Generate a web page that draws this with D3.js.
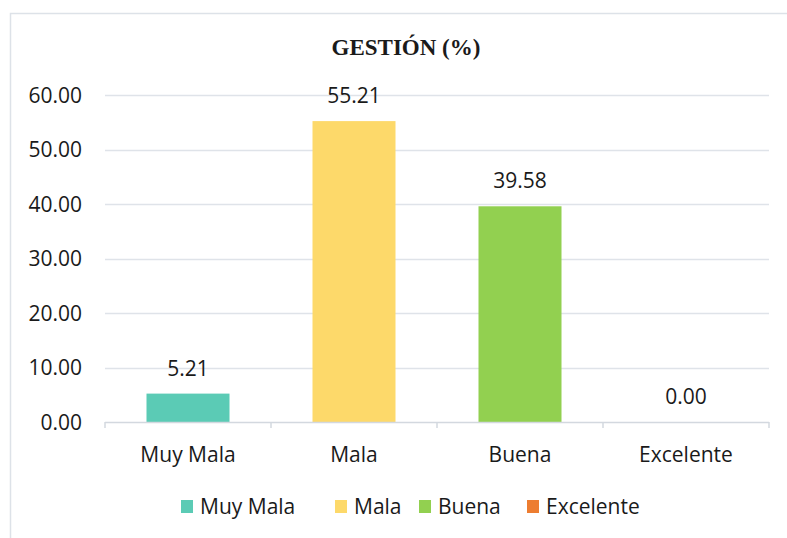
<!DOCTYPE html>
<html>
<head>
<meta charset="utf-8">
<script src="https://cdn.jsdelivr.net/npm/d3@7"></script>
<style>
  body { margin: 0; background: #fff; }
  text { font-family: "Open Sans", Lato, sans-serif; fill: #1a1a1a; }
</style>
</head>
<body>
<div id="chart"></div>
<script>
const categories = ['Muy Mala', 'Mala', 'Buena', 'Excelente']
const values = [5.21, 55.21, 39.58, 0.00]
const colors = ['#5BCBB5', '#FDD96A', '#92D050', '#ED7D31']
const yTicks = [0, 10, 20, 30, 40, 50, 60]
const title = 'GESTIÓN (%)'

const w = 787
const h = 538
const padL = 105, padR = 769, padT = 95, padB = 422

const svg = d3.select('#chart')
    .append('svg')
    .attr('width', w)
    .attr('height', h)

// chart frame (cut off at right and bottom)
svg.append('path')
    .attr('d', `M10.5,${h} V13.5 H${w}`)
    .attr('fill', 'none')
    .attr('stroke', '#dde2e8')
    .attr('stroke-width', 1.5)

svg.append('text')
    .attr('x', 406)
    .attr('y', 55)
    .attr('text-anchor', 'middle')
    .style('font-family', '"Liberation Serif", "Times New Roman", serif')
    .style('font-weight', 'bold')
    .style('font-size', '23px')
    .text(title)

const x = d3.scaleBand()
    .domain(categories)
    .range([padL, padR])
    .paddingInner(0.5)
    .paddingOuter(0.25)

const xb = d3.scaleBand()
    .domain(categories)
    .range([padL, padR])

const y = d3.scaleLinear()
    .domain([0, 60])
    .range([padB, padT])

// gridlines
svg.append('g')
    .selectAll('line')
    .data(yTicks.filter(d => d > 0))
    .enter()
    .append('line')
    .attr('x1', padL)
    .attr('x2', padR)
    .attr('y1', d => Math.round(y(d)) + 0.5)
    .attr('y2', d => Math.round(y(d)) + 0.5)
    .attr('stroke', '#dfe3e9')
    .attr('stroke-width', 1.5)

// y labels
svg.append('g')
    .selectAll('text')
    .data(yTicks)
    .enter()
    .append('text')
    .attr('x', 82)
    .attr('y', d => y(d))
    .attr('dy', '0.36em')
    .attr('text-anchor', 'end')
    .style('font-size', '21px')
    .text(d => d3.format('.2f')(d))

// bars
svg.selectAll('rect.bar')
    .data(values)
    .enter()
    .append('rect')
    .attr('class', 'bar')
    .attr('x', (d, i) => x(categories[i]))
    .attr('y', d => y(d))
    .attr('width', x.bandwidth())
    .attr('height', d => padB - y(d))
    .attr('fill', (d, i) => colors[i])

// x axis line + ticks
const axisG = svg.append('g').attr('stroke', '#d3d8df').attr('stroke-width', 1.5)
axisG.append('line')
    .attr('x1', padL).attr('x2', padR)
    .attr('y1', padB + 0.5).attr('y2', padB + 0.5)
axisG.selectAll('line.tick')
    .data(categories.concat(['end']))
    .enter()
    .append('line')
    .attr('class', 'tick')
    .attr('x1', (d, i) => i < categories.length ? xb(d) : padR)
    .attr('x2', (d, i) => i < categories.length ? xb(d) : padR)
    .attr('y1', padB)
    .attr('y2', padB + 6)

// category labels
svg.append('g')
    .selectAll('text')
    .data(categories)
    .enter()
    .append('text')
    .attr('x', d => xb(d) + xb.bandwidth() / 2)
    .attr('y', 462)
    .attr('text-anchor', 'middle')
    .style('font-size', '21px')
    .text(d => d)

// value labels
svg.append('g')
    .selectAll('text')
    .data(values)
    .enter()
    .append('text')
    .attr('x', (d, i) => xb(categories[i]) + xb.bandwidth() / 2)
    .attr('y', d => y(d) - 18)
    .attr('text-anchor', 'middle')
    .style('font-size', '21px')
    .text(d => d3.format('.2f')(d))

// legend
const legendX = [181, 335, 419, 527]
const legend = svg.append('g')
    .selectAll('g')
    .data(categories)
    .enter()
    .append('g')
    .attr('transform', (d, i) => `translate(${legendX[i]},0)`)
legend.append('rect')
    .attr('x', 0).attr('y', 500)
    .attr('width', 12).attr('height', 13)
    .attr('fill', (d, i) => colors[i])
legend.append('text')
    .attr('x', 19).attr('y', 514)
    .style('font-size', '21px')
    .text(d => d)
</script>
</body>
</html>
